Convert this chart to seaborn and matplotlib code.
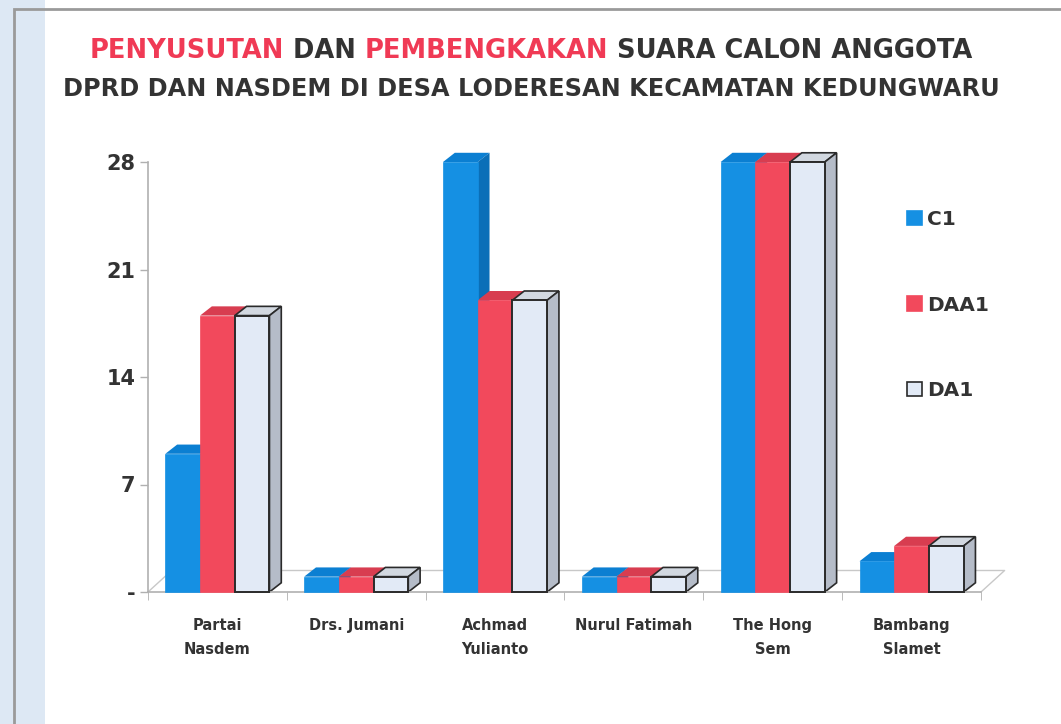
import numpy as np
import pandas as pd
import seaborn as sns
import matplotlib.pyplot as plt
from matplotlib.patches import Polygon, Patch, Rectangle
from matplotlib.ticker import FixedLocator

# data
categories = ["Partai\nNasdem", "Drs. Jumani", "Achmad\nYulianto",
              "Nurul Fatimah", "The Hong\nSem", "Bambang\nSlamet"]
series = ["C1", "DAA1", "DA1"]
c1 = [9, 1, 28, 1, 28, 2]
daa1 = [18, 1, 19, 1, 28, 3]
da1 = [18, 1, 19, 1, 28, 3]
yticks = [0, 7, 14, 21, 28]
ylabels = ["-", "7", "14", "21", "28"]

front = {"C1": "#1590e3", "DAA1": "#f2495c", "DA1": "#e2eaf6"}
topc = {"C1": "#0b7fd2", "DAA1": "#d83d50", "DA1": "#d2d8e0"}
sidec = {"C1": "#0a6fb8", "DAA1": "#c53545", "DA1": "#b5bcc8"}
txt = "#333333"

df = pd.DataFrame({
    "cat": categories * 3,
    "serie": [s for s in series for _ in categories],
    "val": c1 + daa1 + da1,
})

sns.set_style("white")
plt.rcParams["font.family"] = ["DejaVu Sans"]

fig = plt.figure(figsize=(10.61, 7.24), dpi=100)
fig.patch.set_facecolor("white")
ax = fig.add_axes([148 / 1061, 132 / 724, 833 / 1061, 430 / 724])

sns.barplot(data=df, x="cat", y="val", hue="serie", order=categories,
            hue_order=series, palette=front, width=0.75, saturation=1,
            legend=False, ax=ax, zorder=3, linewidth=0)

# fake 3D depth: top and side faces built from each bar patch
dx, dy = 0.085, 0.6
bars = list(ax.patches)
for i, p in enumerate(bars):
    s = series[i // len(categories)]
    x0, w, h = p.get_x(), p.get_width(), p.get_height()
    ec = "#2a2a2a" if s == "DA1" else "none"
    top = Polygon([(x0, h), (x0 + dx, h + dy), (x0 + w + dx, h + dy), (x0 + w, h)],
                  closed=True, fc=topc[s], ec=ec, lw=1.2, zorder=2, clip_on=False)
    side = Polygon([(x0 + w, 0), (x0 + w + dx, dy), (x0 + w + dx, h + dy), (x0 + w, h)],
                   closed=True, fc=sidec[s], ec=ec, lw=1.2, zorder=2, clip_on=False)
    ax.add_patch(top)
    ax.add_patch(side)
    p.set_clip_on(False)
    if s == "DA1":
        p.set_edgecolor("#2a2a2a")
        p.set_linewidth(1.4)
    else:
        p.set_edgecolor(front[s])
        p.set_linewidth(0.5)

# floor outline
xmin, xmax = -0.5, len(categories) - 0.5
fx, fy = 0.17, 1.4
ax.plot([xmin, xmin + fx, xmax + fx, xmax], [0, fy, fy, 0], color="#c8c8c8",
        lw=1.0, zorder=1, clip_on=False)

ax.set_xlim(xmin, xmax)
ax.set_ylim(0, 28)
ax.set_yticks(yticks)
ax.set_yticklabels(ylabels, fontsize=15, fontweight="bold", color=txt)
ax.tick_params(axis="y", length=6, color="#b0b0b0", width=1, pad=3, left=True)
ax.set_xticks(range(len(categories)))
ax.set_xticklabels(categories, fontsize=10.5, fontweight="bold", color=txt,
                   linespacing=1.7, va="top")
ax.tick_params(axis="x", length=0, pad=19)
ax.xaxis.set_minor_locator(FixedLocator(np.arange(xmin, xmax + 1)))
ax.tick_params(axis="x", which="minor", length=6, color="#b0b0b0", bottom=True)
ax.set_xlabel("")
ax.set_ylabel("")
for sp in ["top", "right"]:
    ax.spines[sp].set_visible(False)
for sp in ["left", "bottom"]:
    ax.spines[sp].set_color("#b0b0b0")
    ax.spines[sp].set_linewidth(1.2)
ax.set_facecolor("none")

# legend
handles = [Patch(fc=front[s], ec="#2a2a2a" if s == "DA1" else front[s], lw=1.2, label=s)
           for s in series]
leg = fig.legend(handles=handles, loc="upper left", bbox_to_anchor=(889 / 1061, 1 - 192 / 724),
                 frameon=False, handlelength=0.75, handleheight=0.75, handletextpad=0.25,
                 labelspacing=3.3, prop={"weight": "bold", "size": 14.5})
for t in leg.get_texts():
    t.set_color(txt)

# scan frame decoration
fig.patches.append(Rectangle((0, 0), 45 / 1061, 1, transform=fig.transFigure,
                             fc="#dde8f4", ec="none", zorder=0))
fig.patches.append(Rectangle((14 / 1061, -0.05), 1.1, 1 - 9 / 724 + 0.05,
                             transform=fig.transFigure, fc="none", ec="#9a9a9a",
                             lw=2.0, zorder=1))

# two-colour title built piece by piece, scaled to the reference width
red = "#f03a55"
lines = [
    [("PENYUSUTAN", red), (" DAN ", txt), ("PEMBENGKAKAN", red), (" SUARA CALON ANGGOTA", txt)],
    [("DPRD DAN NASDEM DI DESA LODERESAN KECAMATAN KEDUNGWARU", txt)],
]
ycent = [1 - 51 / 724, 1 - 89 / 724]
target = [884, 930]
renderer = fig.canvas.get_renderer()
for parts, yc, tw in zip(lines, ycent, target):
    pieces = [fig.text(0, yc, s, color=col, fontsize=16, fontweight="bold",
                       va="center", ha="left") for s, col in parts]
    total = sum(t.get_window_extent(renderer).width for t in pieces)
    size = min(16 * tw / total, 19)
    for t in pieces:
        t.set_fontsize(size)
    widths = [t.get_window_extent(renderer).width for t in pieces]
    x = 531 - sum(widths) / 2
    for t, wd in zip(pieces, widths):
        t.set_x(x / 1061)
        x += wd

fig.savefig("out.png", dpi=100)
